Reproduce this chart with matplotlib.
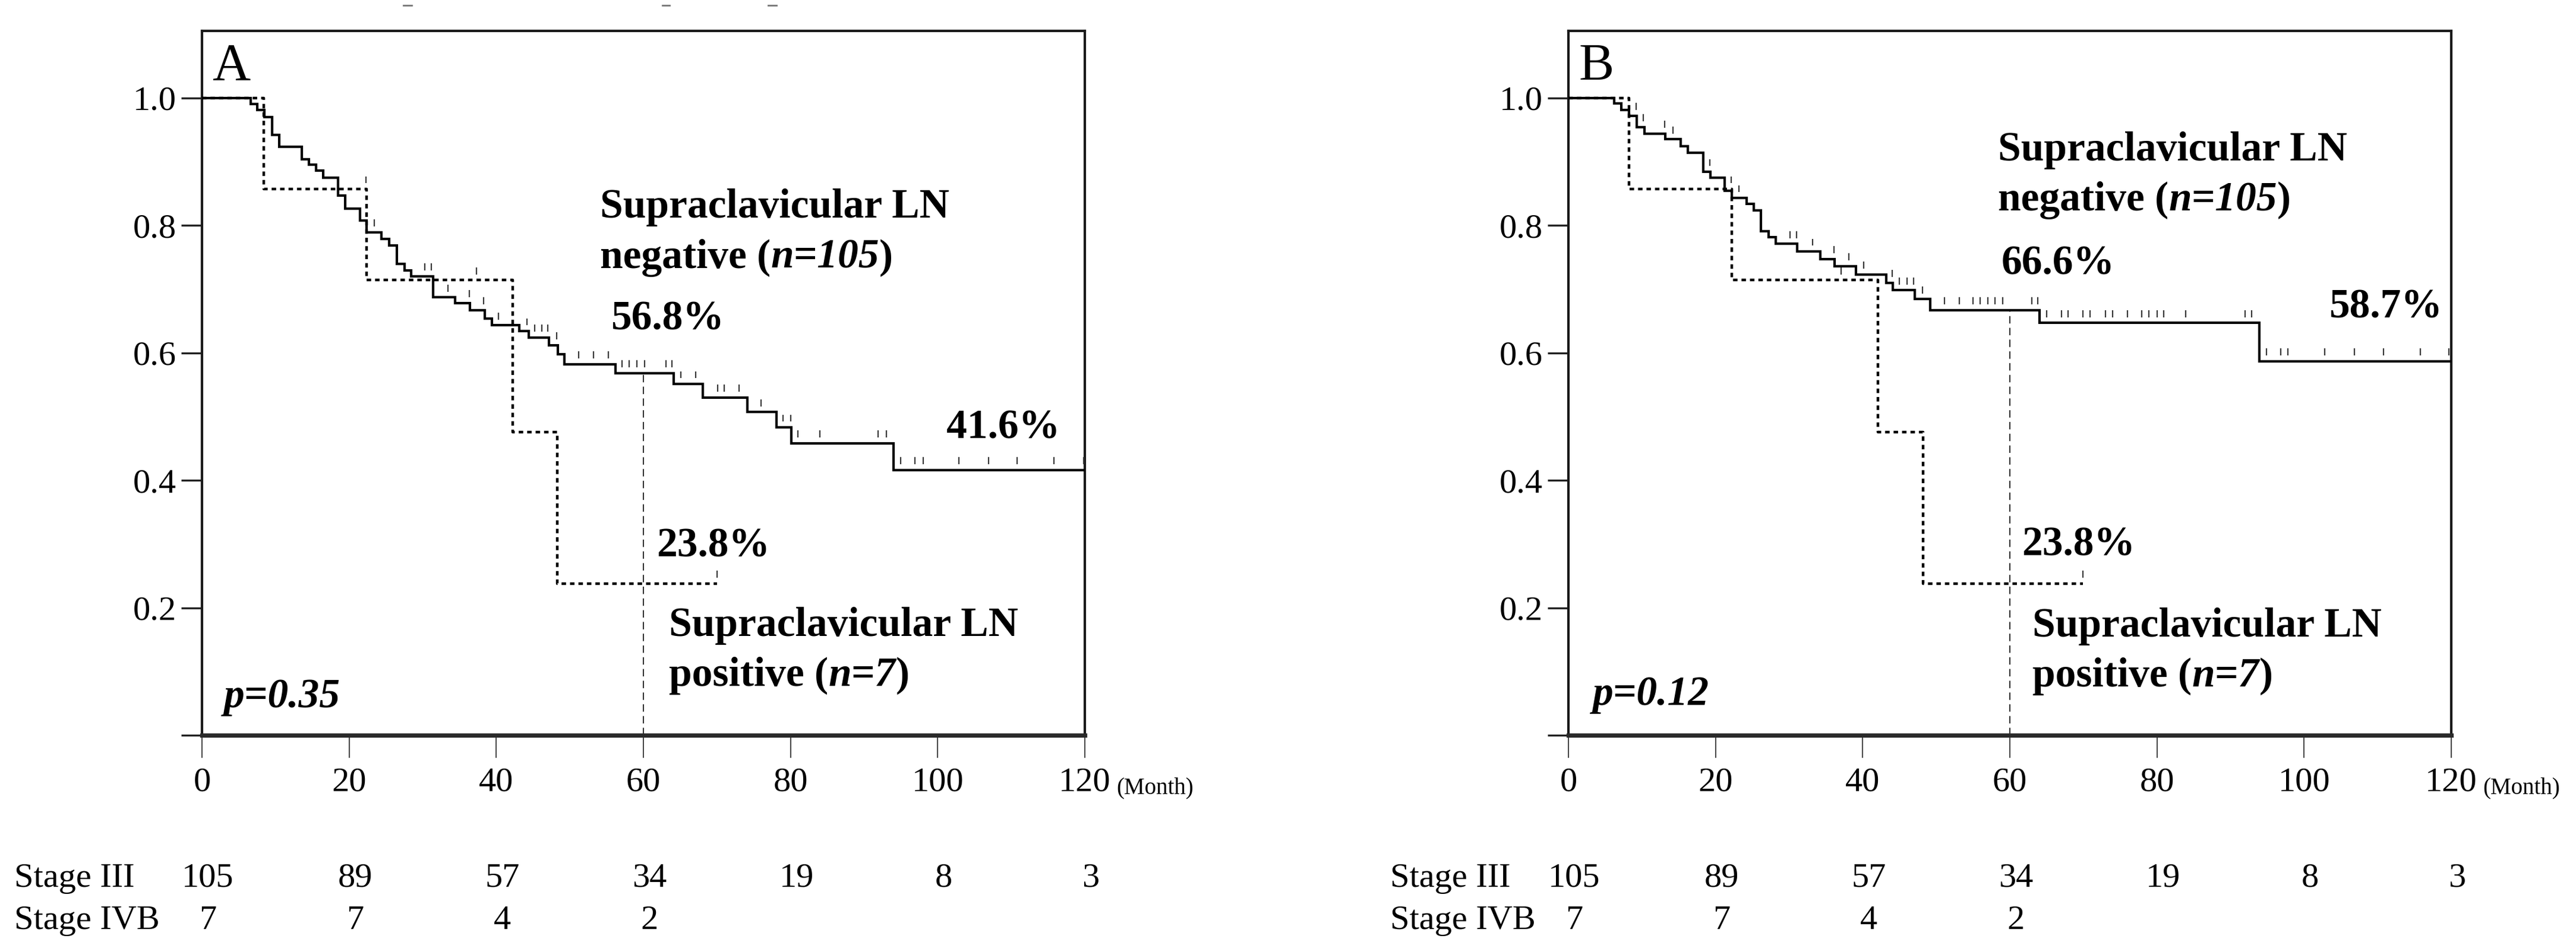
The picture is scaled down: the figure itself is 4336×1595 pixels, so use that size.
import matplotlib
matplotlib.use("Agg")
import matplotlib.pyplot as plt
import matplotlib.transforms as mtransforms
from matplotlib.lines import Line2D
import numpy as np

# ---------------- data ----------------
risk_times = [0, 20, 40, 60, 80, 100, 120]
stage3_risk = [105, 89, 57, 34, 19, 8, 3]
stage4b_risk = [7, 7, 4, 2]
row_labels = ["Stage III", "Stage IVB"]

# Panel A
A_neg_times = [6.6, 7.5, 8.5, 9.5, 10.5, 13.6, 14.5, 15.5, 16.5, 18.5, 19.5, 21.5,
               22.4, 24.4, 25.4, 26.5, 27.5, 28.4, 31.4, 34.4, 36.4, 38.4, 39.4,
               43.1, 44.4, 47.2, 48.4, 49.3, 56.2, 64.1, 68.1, 74.1, 78.1, 80.1, 94.0]
A_neg_surv = [0.990, 0.981, 0.970, 0.942, 0.923, 0.904, 0.895, 0.886, 0.875, 0.847,
              0.826, 0.808, 0.789, 0.779, 0.768, 0.739, 0.729, 0.720, 0.687, 0.678,
              0.667, 0.654, 0.643, 0.634, 0.624, 0.612, 0.598, 0.582, 0.568, 0.551,
              0.530, 0.507, 0.483, 0.458, 0.416]
A_neg_cens = [23.4, 30.3, 31.2, 33.4, 36.3, 38.3, 40.3, 44.2, 45.2, 46.2, 47.0, 48.2,
              51.2, 53.2, 55.2, 57.1, 58.1, 59.1, 60.2, 63.1, 63.9, 65.1, 67.1, 70.1,
              71.0, 73.0, 76.0, 79.0, 80.0, 81.0, 84.0, 91.9, 93.0, 95.0, 96.9, 98.0,
              102.9, 106.9, 110.8, 115.8, 119.8]
A_pos_times = [8.4, 22.4, 42.2, 48.3]
A_pos_surv = [0.857, 0.714, 0.476, 0.238]
A_pos_cens = [22.3, 37.3, 70.0]

# Panel B
B_neg_times = [6.2, 7.2, 8.2, 9.3, 10.3, 13.2, 15.3, 16.2, 18.3, 19.3, 21.2, 22.2,
               24.2, 25.2, 26.2, 27.2, 28.2, 31.1, 34.2, 36.2, 39.1, 43.2, 44.1,
               47.1, 49.2, 64.0, 93.9]
B_neg_surv = [0.991, 0.981, 0.972, 0.954, 0.944, 0.935, 0.924, 0.914, 0.884, 0.875,
              0.854, 0.843, 0.834, 0.823, 0.791, 0.781, 0.771, 0.759, 0.747, 0.736,
              0.723, 0.710, 0.698, 0.684, 0.667, 0.647, 0.587]
B_neg_cens = [9.2, 10.2, 13.1, 14.2, 19.2, 23.2, 30.1, 31.0, 33.2, 36.1, 38.1, 40.1,
              44.0, 45.0, 46.0, 46.9, 48.1, 51.1, 53.1, 55.0, 56.0, 57.0, 58.0, 59.0,
              63.0, 63.8, 65.0, 67.0, 67.9, 69.9, 70.9, 73.0, 74.0, 76.0, 77.9, 78.9,
              80.0, 80.9, 83.9, 92.0, 92.9, 94.9, 96.8, 97.8, 102.8, 106.8, 110.8,
              115.8, 119.7]
B_pos_times = [8.2, 22.2, 42.1, 48.2]
B_pos_surv = [0.857, 0.714, 0.476, 0.238]
B_pos_cens = [22.1, 37.1, 69.9]

panel_letters = ["A", "B"]
p_values = ["p=0.35", "p=0.12"]
neg_pct = ["56.8%", "66.6%"]
end_pct = ["41.6%", "58.7%"]
pos_pct = ["23.8%", "23.8%"]

# ---------------- style ----------------
SERIF = "Liberation Serif"
plt.rcParams["font.family"] = [SERIF, "DejaVu Serif"]
DPI = 200
W, H = 4336, 1595
fig = plt.figure(figsize=(W / DPI, H / DPI), dpi=DPI)
renderer = fig.canvas.get_renderer()

ANN = 25
TICKFS = 21


def step_level(times, surv, t):
    idx = np.searchsorted(np.asarray(times), t, side="right")
    vals = np.concatenate([[1.0], np.asarray(surv)])
    return vals[idx]


def draw_km(ax, times, surv, cens, end, ls, lw):
    t = np.concatenate([[0.0], times, [end]])
    s = np.concatenate([[1.0], surv, [surv[-1]]])
    ax.step(t, s, where="post", color="black", lw=lw, linestyle=ls,
            solid_joinstyle="miter", zorder=3)
    lev = np.array([step_level(times, surv, c) for c in cens])
    ax.vlines(cens, lev + 0.009, lev + 0.020, color="#3a3a3a", lw=0.8, zorder=3)


def rich(ax, x, y, parts, size=ANN):
    dx = 0.0
    for s, style in parts:
        tr = mtransforms.offset_copy(ax.transData, fig=fig, x=dx, y=0, units="dots")
        t = ax.text(x, y, s, transform=tr, fontsize=size, fontweight="bold",
                    fontstyle=style, family=SERIF, ha="left", va="baseline")
        dx += t.get_window_extent(renderer=renderer).width


def label(ax, x, y, s, size=ANN):
    ax.text(x, y, s, fontsize=size, fontweight="bold", family=SERIF,
            ha="left", va="baseline")


panels = [
    dict(left=340, neg=(A_neg_times, A_neg_surv, A_neg_cens),
         pos=(A_pos_times, A_pos_surv, A_pos_cens),
         neg_lab=(54.1, 0.812), neg_pct=(55.6, 0.636), end_pct=(101.2, 0.466),
         pos_pct=(61.8, 0.280), pos_lab=(63.5, 0.156), p=(3.0, 0.044),
         stage_x=24),
    dict(left=2640, neg=(B_neg_times, B_neg_surv, B_neg_cens),
         pos=(B_pos_times, B_pos_surv, B_pos_cens),
         neg_lab=(58.4, 0.902), neg_pct=(58.8, 0.723), end_pct=(103.4, 0.655),
         pos_pct=(61.6, 0.282), pos_lab=(63.1, 0.155), p=(3.3, 0.048),
         stage_x=2340),
]

ax_w = 1486
ax_bottom_px, ax_top_px = 1237, 52
for i, P in enumerate(panels):
    ax = fig.add_axes([P["left"] / W, 1 - ax_bottom_px / H, ax_w / W,
                       (ax_bottom_px - ax_top_px) / H])
    ax.set_xlim(0, 120)
    ax.set_ylim(0, 1.105)
    for sp in ["left", "top", "right"]:
        ax.spines[sp].set_linewidth(1.5)
        ax.spines[sp].set_color("#1a1a1a")
    ax.spines["bottom"].set_linewidth(2.6)
    ax.spines["bottom"].set_color("#2a2a2a")

    ax.set_xticks(risk_times)
    ax.set_xticklabels([str(v) for v in risk_times])
    yt = [0, 0.2, 0.4, 0.6, 0.8, 1.0]
    ax.set_yticks(yt)
    ax.set_yticklabels([""] + ["%.1f" % v for v in yt[1:]])
    ax.tick_params(axis="x", direction="out", length=13.7, width=0.6,
                   pad=5.4, labelsize=TICKFS, color="#222")
    ax.tick_params(axis="y", direction="out", length=12.5, width=1.2,
                   pad=3.2, labelsize=TICKFS, color="#222")
    for lab in ax.get_xticklabels() + ax.get_yticklabels():
        lab.set_family(SERIF)

    nt, ns, nc = P["neg"]
    pt, ps, pc = P["pos"]
    draw_km(ax, nt, ns, nc, 120, "-", 1.5)
    draw_km(ax, pt, ps, pc, pc[-1], (0, (1.7, 1.5)), 1.6)

    # 60-month reference line
    v60 = step_level(nt, ns, 60)
    ax.vlines(60, 0, v60, color="#333", lw=0.75, linestyles=[(0, (6, 3.5))], zorder=2)

    # annotations
    ax.text(1.4, 1.029, panel_letters[i], fontsize=32, family=SERIF,
            ha="left", va="baseline")
    x, y = P["neg_lab"]
    label(ax, x, y, "Supraclavicular LN")
    rich(ax, x, y - 0.079, [("negative (", "normal"), ("n=105", "italic"), (")", "normal")])
    label(ax, *P["neg_pct"], neg_pct[i])
    label(ax, *P["end_pct"], end_pct[i])
    label(ax, *P["pos_pct"], pos_pct[i])
    x, y = P["pos_lab"]
    label(ax, x, y, "Supraclavicular LN")
    rich(ax, x, y - 0.079, [("positive (", "normal"), ("n=7", "italic"), (")", "normal")])
    ax.text(*P["p"], p_values[i], fontsize=25, fontweight="bold", fontstyle="italic",
            family=SERIF, ha="left", va="baseline")

    # (Month)
    ax.text(124.3, -0.0827, "(Month)", transform=ax.get_xaxis_transform(),
            fontsize=14, family=SERIF, ha="left", va="baseline", clip_on=False)

    # number at risk table
    bt = mtransforms.blended_transform_factory(ax.transData, fig.transFigure)
    rows_y = [1 - 1492 / H, 1 - 1563 / H]
    for r, (vals, yy) in enumerate(zip([stage3_risk, stage4b_risk], rows_y)):
        fig.text(P["stage_x"] / W, yy, row_labels[r], fontsize=TICKFS, family=SERIF,
                 ha="left", va="baseline")
        for tt, v in zip(risk_times, vals):
            ax.text(tt + 0.8, yy, str(v), transform=bt, fontsize=TICKFS,
                    family=SERIF, ha="center", va="baseline", clip_on=False)

# small crop remnants at the very top
for x0, x1 in [(679, 693), (1115, 1127), (1293, 1307)]:
    fig.add_artist(Line2D([x0 / W, x1 / W], [1 - 9 / H, 1 - 9 / H],
                          transform=fig.transFigure, color="#777", lw=1.0))

fig.savefig("out.png", dpi=DPI, facecolor="white")
